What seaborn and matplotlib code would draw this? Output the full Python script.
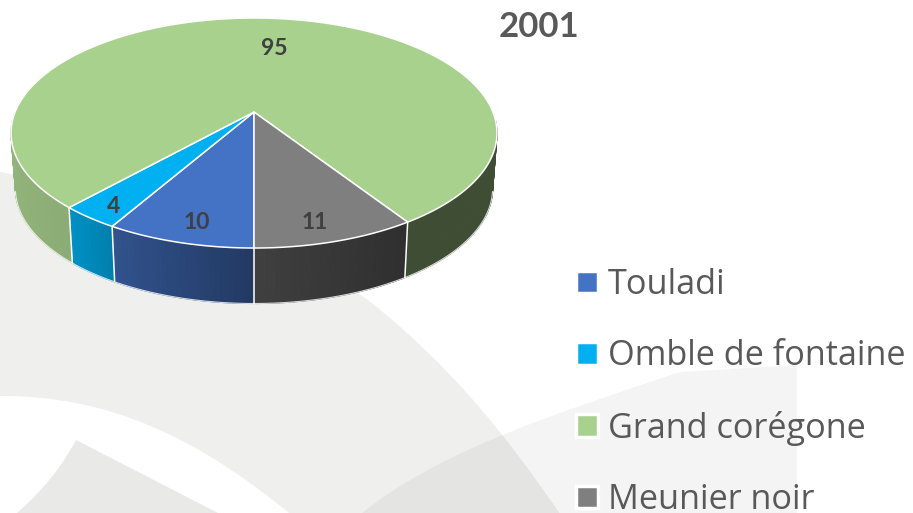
import numpy as np
import matplotlib
matplotlib.use("Agg")
import matplotlib.pyplot as plt
from matplotlib.patches import Patch, PathPatch
from matplotlib.path import Path
import seaborn as sns

# ---- data ----
categories = ["Touladi", "Omble de fontaine", "Grand corégone", "Meunier noir"]
values = [10, 4, 95, 11]
title = "2001"
colors = ["#4472C4", "#00B0F0", "#A9D18E", "#7F7F7F"]

# ---- layout (pixels) ----
W, H = 913, 513
APEX = (254.0, 112.0)
PERSP = 0.1827
RX, RY = 238.9, 111.17
DEPTH = 55.5
BOTTOM_SCALE = 0.982
LABEL_RADII = [0.867, 0.889, 0.668, 0.867]
LABEL_NUDGE_X = [6, 3, 9, -9]
LABEL_NUDGE_Y = [1, 2, 3, 2]

sns.set_theme(style="white")
plt.rcParams["font.family"] = ["Lato", "DejaVu Sans"]
palette = sns.color_palette(colors)

fig = plt.figure(figsize=(W / 100, H / 100), dpi=100, facecolor="white")
ax = fig.add_axes([0, 0, 1, 1])
ax.set_xlim(0, W)
ax.set_ylim(H, 0)
ax.axis("off")


def project(t_deg, rho=1.0):
    """Clockwise angle from the bottom of the disc -> pixel position, with perspective."""
    t = np.radians(t_deg)
    x, y = -rho * np.sin(t), -rho * np.cos(t)
    d = 1 + PERSP * y
    return APEX[0] + RX * x / d, APEX[1] - RY * y / d


def lower(px, py):
    return APEX[0] + (px - APEX[0]) * BOTTOM_SCALE, py + DEPTH


# ---- decorative background swooshes ----
M, C3, C4 = Path.MOVETO, Path.CURVE3, Path.CURVE4
L = Path.LINETO
shape_a = Path(
    [(0, 172), (130, 195), (260, 228), (368, 300), (450, 365), (507, 436), (560, 514),
     (560, 513), (289, 513), (200, 440), (110, 395), (0, 396), (0, 172)],
    [M, C4, C4, C4, C4, C4, C4, L, L, C4, C4, C4, L])
ax.add_patch(PathPatch(shape_a, fc="#EFEFEE", ec="none", zorder=0))
shape_b = Path(
    [(76, 440), (55, 480), (17, 513), (218, 513), (76, 440)],
    [M, C3, C3, L, L])
ax.add_patch(PathPatch(shape_b, fc="#E9E9E8", ec="none", zorder=0))
shape_c = Path(
    [(362, 513), (440, 450), (560, 412), (680, 372), (797, 365), (797, 513), (362, 513)],
    [M, C4, C4, C4, L, L, L])
ax.add_patch(PathPatch(shape_c, fc="black", alpha=0.045, ec="none", zorder=0.5))

# ---- disc geometry from the values ----
edges = np.concatenate([[0], np.cumsum(values)]) / np.sum(values) * 360.0

# side wall: shading depends on horizontal position
shade_x = [11, 69, 112, 254, 408, 498]
shade_f = [0.86, 0.82, 0.72, 0.50, 0.37, 0.37]
for i, col in enumerate(palette):
    ts = np.arange(edges[i], edges[i + 1] + 0.01, 1.0)
    if ts[-1] < edges[i + 1]:
        ts = np.append(ts, edges[i + 1])
    for a, b in zip(ts[:-1], ts[1:]):
        xa, ya = project(a)
        xb, yb = project(b)
        if ya < 120 and yb < 120:
            continue
        xa2, ya2 = lower(xa, ya)
        xb2, yb2 = lower(xb, yb)
        f = np.interp((xa + xb) / 2, shade_x, shade_f)
        c = tuple(f * v for v in col)
        ax.fill([xa, xb, xb2, xa2], [ya, yb, yb2, ya2], color=c, lw=0.8, zorder=2)

# rim and separators of the wall
rim = np.arange(-78, 79, 1.0)
rx, ry = zip(*[lower(*project(t)) for t in rim])
ax.plot(rx, ry, color="white", lw=0.8, alpha=0.8, zorder=2.5)
for t in edges[:-1]:
    x0, y0 = project(t)
    x1, y1 = lower(x0, y0)
    ax.plot([x0, x1], [y0, y1], color="white", lw=1.1, zorder=3)

# top face
for i, col in enumerate(palette):
    ts = np.linspace(edges[i], edges[i + 1], 200)
    px, py = project(ts)
    ax.fill(np.r_[APEX[0], px], np.r_[APEX[1], py], fc=col, ec="white", lw=1.1,
            joinstyle="miter", zorder=4)

# value labels
for i, v in enumerate(values):
    mid = (edges[i] + edges[i + 1]) / 2
    lx, ly = project(mid, LABEL_RADII[i])
    ax.text(lx + LABEL_NUDGE_X[i], ly + LABEL_NUDGE_Y[i], str(v), ha="center", va="center",
            fontsize=16.5, fontweight="bold", color="#404040", zorder=5)

ax.text(539, 27, title, ha="center", va="center", fontsize=25, fontweight="bold",
        color="#595959", zorder=5)

# legend
handles = [Patch(fc=c, ec="white", lw=2.5) for c in palette]
leg = ax.legend(handles, categories, loc="upper left", bbox_to_anchor=(576 / W, 1 - 268 / H),
                bbox_transform=ax.transAxes, frameon=False,
                prop={"family": "Open Sans", "size": 24.7},
                labelcolor="#595959", borderpad=0, borderaxespad=0,
                handlelength=0.63, handleheight=0.63, handletextpad=0.31,
                labelspacing=1.09)
leg.set_zorder(6)

fig.savefig("out.png", dpi=100, facecolor="white")
